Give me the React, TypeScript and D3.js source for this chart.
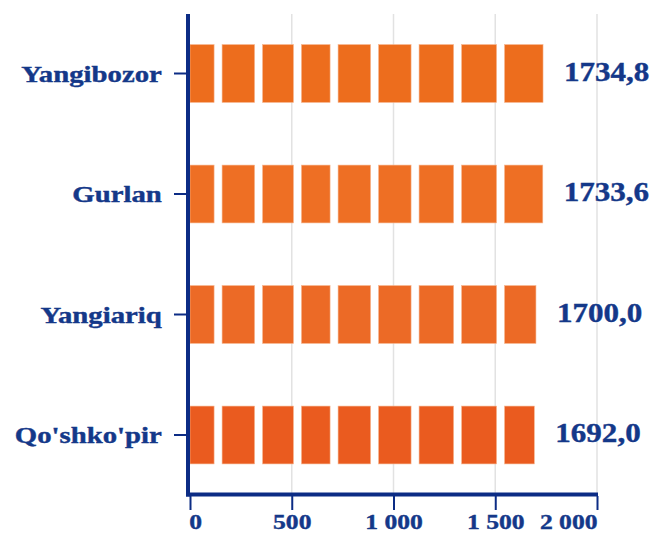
import React, {useEffect, useRef} from 'react';
import * as d3 from 'd3';

const districts = ["Yangibozor", "Gurlan", "Yangiariq", "Qo'shko'pir"];
const values = [1734.8, 1733.6, 1700.0, 1692.0];
const barColors = ['#ED6D1D', '#EE6F24', '#EC6A26', '#EA5B1F'];
const xTicks = [0, 500, 1000, 1500, 2000];
// values where the bars are cut into blocks
const segmentBreaks = [138, 337, 528, 708, 907, 1106, 1315, 1526];

const W = 652;
const H = 533;
const NAVY = '#143889';
const AXIS = '#0C2C85';
const FONT = '"Liberation Serif", "Times New Roman", serif';

export default function App() {
  const ref = useRef<SVGSVGElement>(null);

  useEffect(() => {
    const svg = d3.select(ref.current);
    svg.selectAll('*').remove();

    const loc = d3.formatLocale({decimal: ',', thousands: '\u00a0', grouping: [3], currency: ['', '']});
    const fmtTick = loc.format(',d');
    const fmtVal = loc.format('.1f');

    const x = d3.scaleLinear().domain([0, 2000]).range([190, 597]);
    const y = d3.scaleBand()
        .domain(districts)
        .range([13.25, 495.25])
        .paddingInner(0.52)
        .paddingOuter(0.26);
    const baseY = 494.5;
    const gap = 8;

    // grid lines
    svg.append('g')
        .selectAll('line')
        .data(xTicks.slice(1))
        .join('line')
        .attr('x1', d => x(d))
        .attr('x2', d => x(d))
        .attr('y1', 14)
        .attr('y2', baseY)
        .attr('stroke', '#E2E2E2')
        .attr('stroke-width', 1.5);

    // segmented bars
    districts.forEach((name, i) => {
      const v = values[i];
      const edges = [0, ...segmentBreaks.filter(b => x(b) + gap / 2 < x(v)), v];
      const segs = d3.pairs(edges).map(([a, b]) => ({
        x0: x(a) + (a === 0 ? 0 : gap / 2),
        x1: x(b) - (b === v ? 0 : gap / 2),
      }));
      svg.append('g')
          .selectAll('rect')
          .data(segs)
          .join('rect')
          .attr('x', d => d.x0)
          .attr('y', y(name)!)
          .attr('width', d => d.x1 - d.x0)
          .attr('height', y.bandwidth())
          .attr('fill', barColors[i])
          .attr('stroke', '#F7B58E')
          .attr('stroke-width', 0.6);

      svg.append('text')
          .attr('transform', `translate(${x(v) + 21},${y(name)! + y.bandwidth() / 2 + 7}) scale(1.15,1)`)
          .attr('font-family', FONT)
          .attr('font-weight', 'bold')
          .attr('font-size', 27)
          .attr('fill', NAVY)
          .attr('stroke', NAVY)
          .attr('stroke-width', 0.4)
          .text(fmtVal(v));
    });

    // left axis
    const gy = svg.append('g')
        .attr('transform', 'translate(188,0)')
        .call(d3.axisLeft(y).tickSize(14).tickSizeOuter(0).tickPadding(7));
    gy.select('.domain').remove();
    gy.selectAll('.tick line').attr('stroke', AXIS).attr('stroke-width', 2);
    gy.selectAll('.tick text')
        .attr('transform', 'scale(1.25,1)')
        .attr('dy', 8)
        .attr('font-family', FONT)
        .attr('font-weight', 'bold')
        .attr('font-size', 23)
        .attr('fill', NAVY)
        .attr('stroke', NAVY)
        .attr('stroke-width', 0.4);

    // bottom axis
    const gx = svg.append('g')
        .attr('transform', 'translate(0,496)')
        .call(d3.axisBottom(x).tickValues(xTicks).tickSize(14).tickPadding(4)
            .tickFormat(d => fmtTick(d as number)));
    gx.select('.domain').remove();
    gx.selectAll('.tick line').attr('stroke', AXIS).attr('stroke-width', 2);
    gx.selectAll<SVGTextElement, number>('.tick text')
        .attr('transform', 'scale(1.22,1)')
        .attr('font-family', FONT)
        .attr('font-weight', 'bold')
        .attr('font-size', 21)
        .attr('fill', NAVY)
        .attr('stroke', NAVY)
        .attr('stroke-width', 0.4)
        .attr('text-anchor', (d, i) => i === 0 ? 'start' : i === xTicks.length - 1 ? 'end' : 'middle')
        .attr('x', (d, i) => i === 0 ? -1 : 0);

    // axis lines
    svg.append('line')
        .attr('x1', 188).attr('x2', 188)
        .attr('y1', 14).attr('y2', 496.5)
        .attr('stroke', AXIS).attr('stroke-width', 4);
    svg.append('line')
        .attr('x1', 186).attr('x2', x(2000) + 1)
        .attr('y1', baseY).attr('y2', baseY)
        .attr('stroke', AXIS).attr('stroke-width', 4);
  }, []);

  return (
    <svg ref={ref} width={W} height={H}
         style={{position: 'absolute', left: 0, top: 0, background: '#fff'}}></svg>
  );
}
